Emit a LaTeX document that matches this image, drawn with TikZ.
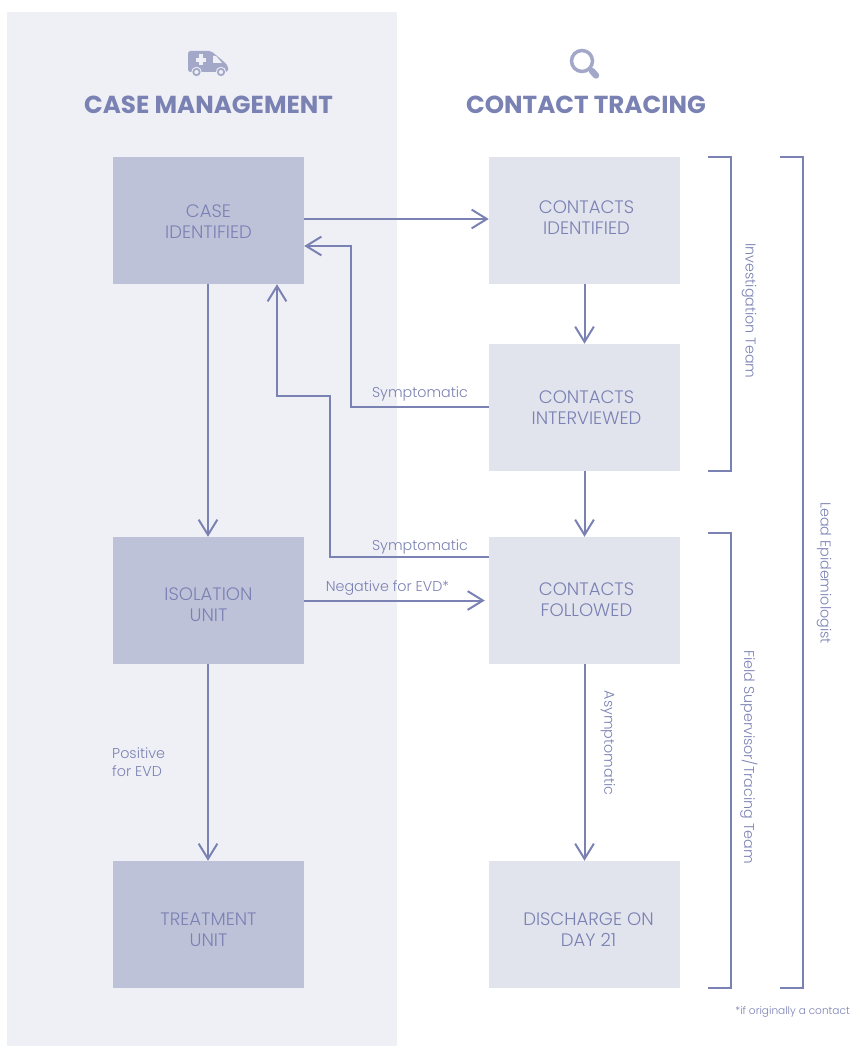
\documentclass[tikz,border=0pt]{standalone}
\usepackage{xcolor}
\usepackage{fontspec}
\setmainfont{Poppins}[UprightFont=* Light, BoldFont=* Bold]
\usepackage{tikz}
\usetikzlibrary{calc, arrows.meta}
\definecolor{bandg}{HTML}{EFF0F5}
\definecolor{boxd}{HTML}{BEC2D8}
\definecolor{boxl}{HTML}{E1E3ED}
\definecolor{ink}{HTML}{7A81B3}
\definecolor{icon}{HTML}{A3A8C9}
\tikzset{
	casebox/.style={fill=boxd, minimum width=5.73cm, minimum height=3.81cm, inner sep=0pt},
	tracebox/.style={casebox, fill=boxl},
	boxtext/.style={text=ink, inner sep=0pt, align=center, font=\fontsize{15.4}{17.9}\selectfont},
	flow/.style={draw=ink, line width=1.7pt, -{Straight Barb[length=13pt, width=16pt, line width=1.7pt]}},
	brace/.style={draw=ink, line width=1.7pt},
	small/.style={text=ink, inner sep=0pt, font=\fontsize{12.2}{15.5}\selectfont},
	title/.style={text=ink, inner sep=0pt, font=\fontsize{21}{24}\selectfont\bfseries}
}
\begin{document}
\begin{tikzpicture}[x=0.03cm, y=-0.03cm]
	\useasboundingbox (0,0) rectangle (851,1046);

	%%%%     FOND     %%%%
	\fill[bandg] (7,12) rectangle (397,1046);

	%%%%     TITRES     %%%%
	\node[title] (casetitle) at (208.5,104.5) {CASE MANAGEMENT};
	\node[title] (tracetitle) at (586,104.5) {CONTACT TRACING};

	% ambulance
	\fill[icon, rounded corners=1.5] (188,72) -- (188,51) -- (211,51) -- (222,60) -- (228,66) -- (228,72) -- cycle;
	\fill[bandg] (213,56) -- (216,56) -- (222,63) -- (213,63) -- cycle;
	\fill[bandg] (198.5,54.5) rectangle (203,65.5);
	\fill[bandg] (195.5,58) rectangle (206,62.5);
	\foreach \wx in {196.5,221}{
		\fill[bandg] (\wx,72) circle (5.2);
		\draw[icon, line width=1.5pt, fill=bandg] (\wx,72) circle (3.2);
	}

	% loupe
	\draw[icon, line width=3pt] (582,61) circle (10.5);
	\draw[icon, line width=5.5pt, line cap=round] (592,71) -- (596,75.5);

	%%%%     BOITES     %%%%
	\node[casebox, label={[boxtext, yshift=-0.9pt]center:{CASE\\IDENTIFIED}}] (caseid) at (208.5,220.5) {};
	\node[casebox, label={[boxtext, yshift=-3.4pt]center:{ISOLATION\\UNIT}}] (isolation) at (208.5,600.5) {};
	\node[casebox, label={[boxtext, yshift=-4.3pt]center:{TREATMENT\\UNIT}}] (treatment) at (208.5,924.5) {};

	\node[tracebox, label={[boxtext, xshift=1.7pt, yshift=2.2pt]center:{CONTACTS\\IDENTIFIED}}] (contactid) at (584.5,220.5) {};
	\node[tracebox, label={[boxtext, xshift=1.7pt]center:{CONTACTS\\INTERVIEWED}}] (interviewed) at (584.5,407.5) {};
	\node[tracebox, label={[boxtext, xshift=1.7pt, yshift=0.8pt]center:{CONTACTS\\FOLLOWED}}] (followed) at (584.5,600.5) {};
	\node[tracebox, label={[boxtext, xshift=3.4pt, yshift=-4.3pt]center:{DISCHARGE ON\\DAY 21}}] (discharge) at (584.5,924.5) {};

	%%%%     FLECHES     %%%%
	\draw[flow] (caseid.east |- 0,219) -- (contactid.west |- 0,219);
	\draw[flow] (contactid) -- (interviewed);
	\draw[flow] (interviewed) -- (followed);
	\draw[flow] (followed) -- (discharge);
	\draw[flow] (208,0 |- caseid.south) -- (208,0 |- isolation.north);
	\draw[flow] (208,0 |- isolation.south) -- (208,0 |- treatment.north);
	\draw[flow, shorten >=3.4pt] (isolation) -- (followed);

	% retours
	\draw[flow] (interviewed.west |- 0,407) -- (351,407) -- (351,246) -- (caseid.east |- 0,246);
	\draw[flow] (followed.west |- 0,557) -- (330,557) -- (330,396) -- (277,396) -- (277,0 |- caseid.south);

	%%%%     ETIQUETTES     %%%%
	\node[small] (symptomup) at (420,394) {Symptomatic};
	\node[small] (symptomdown) at (420,547) {Symptomatic};
	\node[small] (negative) at (387.5,588) {Negative for EVD*};
	\node[small, anchor=west, align=left] (positive) at (112,762) {Positive\\for EVD};
	\node[small, rotate=-90] (asympto) at (608,743) {Asymptomatic};

	%%%%     EQUIPES     %%%%
	\draw[brace] (708,157) -- (731,157) -- (731,471) -- (708,471);
	\draw[brace] (708,533) -- (731,533) -- (731,988) -- (708,988);
	\draw[brace] (780,157) -- (803,157) -- (803,988) -- (780,988);

	\node[small, rotate=-90] (investigation) at (749,311) {Investigation Team};
	\node[small, rotate=-90] (field) at (749,757) {Field Supervisor/Tracing Team};
	\node[small, rotate=-90] (lead) at (824,573) {Lead Epidemiologist};

	\node[small, anchor=east, font=\fontsize{9}{12}\selectfont] (footnote) at (850,1011.5) {*if originally a contact};
\end{tikzpicture}
\end{document}
